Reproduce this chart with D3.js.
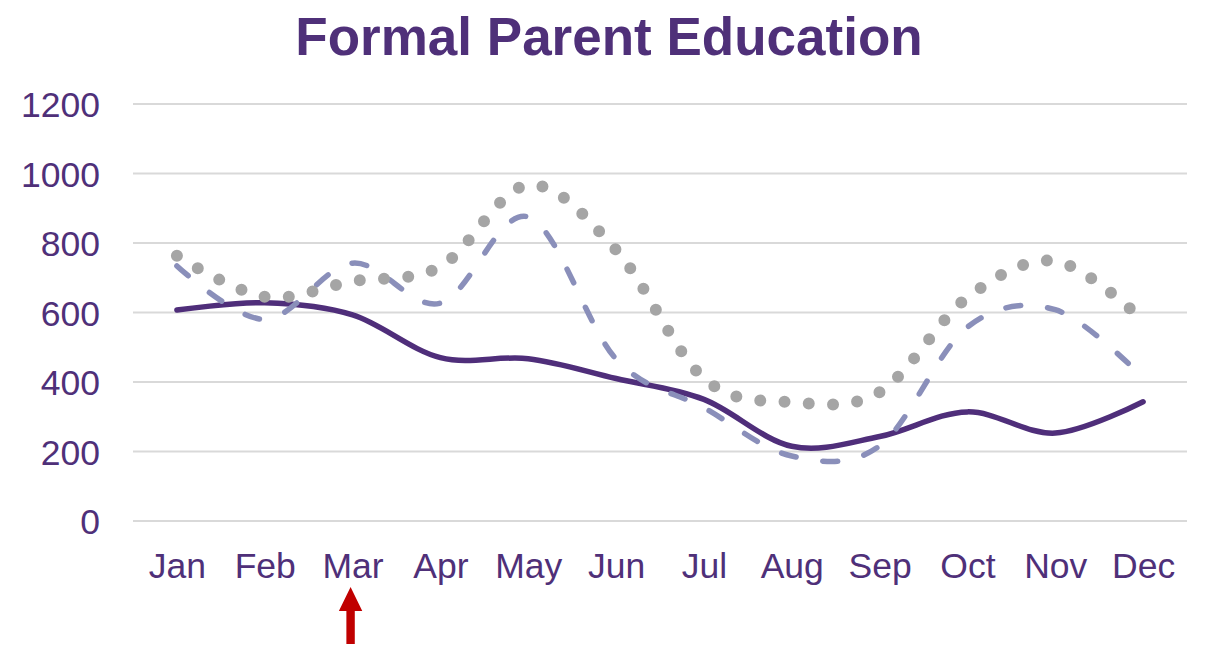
<!DOCTYPE html>
<html>
<head>
<meta charset="utf-8">
<script src="https://cdn.jsdelivr.net/npm/d3@7"></script>
<style>
  html, body { margin: 0; padding: 0; background: #fff; }
  svg { display: block; }
  text { font-family: "Liberation Sans", Arial, sans-serif; }
</style>
</head>
<body>
<svg id="chart" width="1205" height="646"></svg>
<script>
const titleText = "Formal Parent Education";
const months = ["Jan","Feb","Mar","Apr","May","Jun","Jul","Aug","Sep","Oct","Nov","Dec"];
const yTicks = [0, 200, 400, 600, 800, 1000, 1200];
const solidSeries  = [607, 628, 593, 470, 467, 410, 350, 215, 243, 314, 253, 343];
const dashedSeries = [734, 580, 742, 627, 875, 466, 326, 187, 216, 558, 608, 412];
const dottedSeries = [763, 645, 690, 732, 967, 780, 410, 342, 371, 643, 748, 578];
const arrowMonth = "Mar";

const textColor = "#4F3079";
const svg = d3.select("#chart");

const x = d3.scalePoint().domain(months).range([133, 1187]).padding(0.5);
const y = d3.scaleLinear().domain([0, 1200]).range([521, 104]);

// title
svg.append("text")
  .attr("x", 609).attr("y", 55)
  .attr("text-anchor", "middle")
  .attr("font-size", 53).attr("font-weight", "bold")
  .attr("fill", textColor)
  .text(titleText);

// gridlines
svg.append("g").selectAll("line").data(yTicks).join("line")
  .attr("x1", 133).attr("x2", 1187)
  .attr("y1", d => y(d)).attr("y2", d => y(d))
  .attr("stroke", "#D9D9D9").attr("stroke-width", 2);

// y axis labels
const yAxis = d3.axisLeft(y).tickValues(yTicks).tickSize(0).tickPadding(0).tickFormat(d3.format("d"));
const yg = svg.append("g").attr("transform", "translate(100,0)").call(yAxis);
yg.select(".domain").remove();
yg.selectAll("text")
  .attr("font-size", 35.5).attr("fill", textColor)
  .attr("font-family", "'Liberation Sans', Arial, sans-serif")
  .attr("dy", "0.355em").attr("x", 0);

// x axis labels
const xAxis = d3.axisBottom(x).tickSize(0).tickPadding(0);
const xg = svg.append("g").attr("transform", "translate(0,578)").call(xAxis);
xg.select(".domain").remove();
xg.selectAll("text")
  .attr("font-size", 35.5).attr("fill", textColor)
  .attr("font-family", "'Liberation Sans', Arial, sans-serif")
  .attr("dy", 0).attr("y", 0);

// lines
const line = d3.line()
  .x((d, i) => x(months[i]))
  .y(d => y(d))
  .curve(d3.curveCardinal.tension(0));

svg.append("path").datum(solidSeries)
  .attr("d", line).attr("fill", "none")
  .attr("stroke", "#4F2E7A").attr("stroke-width", 5.5)
  .attr("stroke-linecap", "round").attr("stroke-linejoin", "round");

svg.append("path").datum(dashedSeries)
  .attr("d", line).attr("fill", "none")
  .attr("stroke", "#8A8FBA").attr("stroke-width", 5.5)
  .attr("stroke-dasharray", "15 27")
  .attr("stroke-linecap", "round").attr("stroke-linejoin", "round");

svg.append("path").datum(dottedSeries)
  .attr("d", line).attr("fill", "none")
  .attr("stroke", "#A5A5A5").attr("stroke-width", 12)
  .attr("stroke-dasharray", "0 24.3")
  .attr("stroke-linecap", "round").attr("stroke-linejoin", "round");

// red arrow under March
const ax = x(arrowMonth) - 2;
const arrowPts = [[0,587],[11.7,611],[4.2,611],[4.2,644],[-4.2,644],[-4.2,611],[-11.7,611]];
svg.append("polygon")
  .attr("points", arrowPts.map(p => [ax + p[0], p[1]].join(",")).join(" "))
  .attr("fill", "#C00000");
</script>
</body>
</html>
